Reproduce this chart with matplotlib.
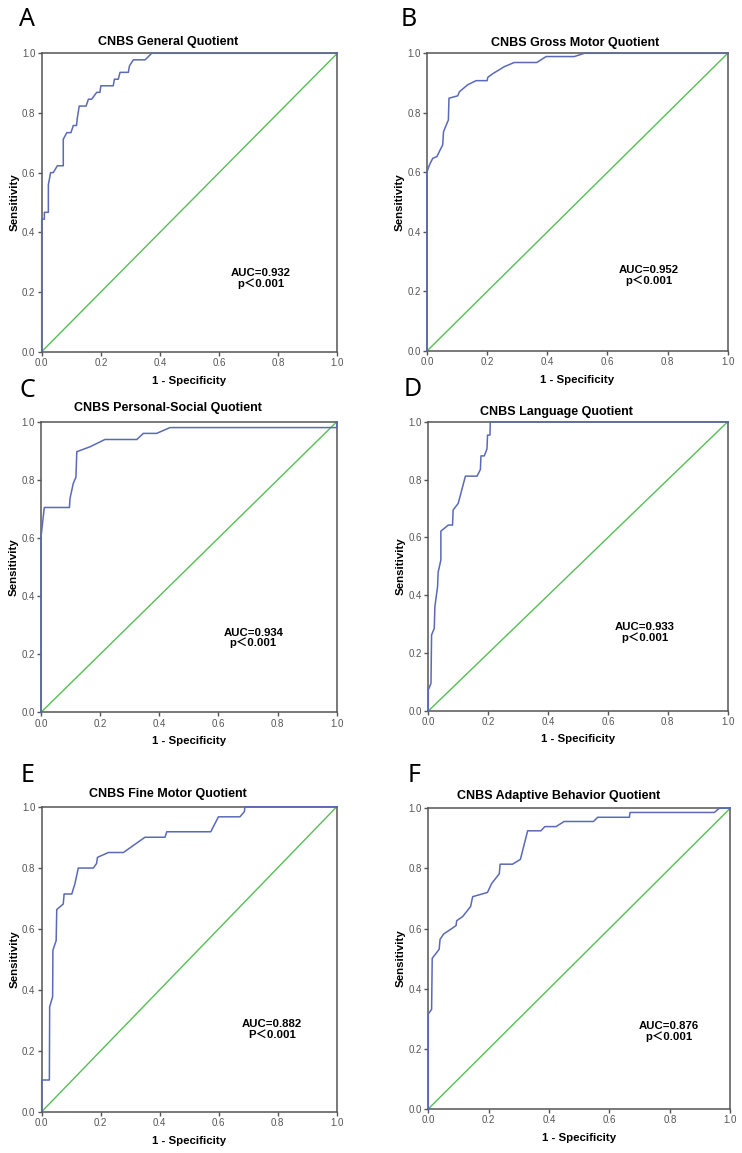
import numpy as np
import matplotlib
matplotlib.use("Agg")
import matplotlib.pyplot as plt

# ROC curves (1 - specificity, sensitivity)
fpr_a = [0, 0, 0.009, 0.009, 0.0225, 0.0225, 0.030, 0.039, 0.053, 0.073, 0.073, 0.085, 0.099,
         0.107, 0.118, 0.120, 0.127, 0.150, 0.158, 0.169, 0.186, 0.197, 0.200, 0.242, 0.246,
         0.259, 0.265, 0.293, 0.297, 0.310, 0.350, 0.372, 1.0]
tpr_a = [0, 0.444, 0.444, 0.467, 0.467, 0.559, 0.600, 0.600, 0.623, 0.623, 0.712, 0.734, 0.734,
         0.758, 0.758, 0.780, 0.823, 0.823, 0.846, 0.846, 0.869, 0.869, 0.891, 0.891, 0.913,
         0.913, 0.936, 0.936, 0.958, 0.978, 0.978, 1.0, 1.0]

fpr_b = [0, 0, 0.008, 0.019, 0.033, 0.041, 0.052, 0.055, 0.071, 0.073, 0.102, 0.108, 0.135,
         0.163, 0.200, 0.202, 0.218, 0.257, 0.290, 0.365, 0.396, 0.490, 0.523, 1.0]
tpr_b = [0, 0.602, 0.625, 0.647, 0.653, 0.670, 0.692, 0.737, 0.776, 0.849, 0.857, 0.871, 0.894,
         0.908, 0.908, 0.919, 0.931, 0.955, 0.969, 0.969, 0.989, 0.989, 1.0, 1.0]

fpr_c = [0, 0, 0.011, 0.096, 0.098, 0.109, 0.118, 0.121, 0.166, 0.216, 0.324, 0.346, 0.391,
         0.436, 1.0, 1.0]
tpr_c = [0, 0.604, 0.705, 0.705, 0.736, 0.788, 0.809, 0.897, 0.914, 0.939, 0.939, 0.960, 0.960,
         0.980, 0.980, 1.0]

fpr_d = [0, 0, 0.009, 0.011, 0.020, 0.022, 0.031, 0.033, 0.042, 0.042, 0.067, 0.081, 0.083,
         0.100, 0.124, 0.163, 0.174, 0.176, 0.187, 0.196, 0.198, 0.206, 0.207, 1.0]
tpr_d = [0, 0.073, 0.096, 0.263, 0.286, 0.361, 0.430, 0.480, 0.522, 0.622, 0.643, 0.643, 0.695,
         0.718, 0.812, 0.812, 0.835, 0.882, 0.882, 0.906, 0.954, 0.954, 1.0, 1.0]

fpr_e = [0, 0, 0.026, 0.027, 0.037, 0.038, 0.049, 0.051, 0.073, 0.076, 0.102, 0.113, 0.124,
         0.175, 0.186, 0.189, 0.226, 0.277, 0.350, 0.418, 0.424, 0.573, 0.599, 0.672, 0.687,
         0.689, 1.0]
tpr_e = [0, 0.104, 0.104, 0.344, 0.377, 0.530, 0.561, 0.663, 0.681, 0.714, 0.714, 0.749, 0.799,
         0.799, 0.814, 0.834, 0.850, 0.850, 0.900, 0.900, 0.918, 0.918, 0.967, 0.967, 0.984,
         1.0, 1.0]

fpr_f = [0, 0, 0.011, 0.013, 0.036, 0.039, 0.051, 0.075, 0.092, 0.094, 0.114, 0.140, 0.147,
         0.196, 0.210, 0.235, 0.238, 0.279, 0.305, 0.329, 0.373, 0.386, 0.423, 0.450, 0.547,
         0.561, 0.666, 0.668, 0.947, 0.964, 1.0]
tpr_f = [0, 0.316, 0.331, 0.501, 0.531, 0.564, 0.582, 0.598, 0.610, 0.626, 0.640, 0.673, 0.706,
         0.720, 0.750, 0.782, 0.814, 0.814, 0.830, 0.925, 0.925, 0.939, 0.939, 0.956, 0.956,
         0.970, 0.970, 0.986, 0.986, 1.0, 1.0]

panel_letters = ["A", "B", "C", "D", "E", "F"]
titles = ["CNBS General Quotient", "CNBS Gross Motor Quotient", "CNBS Personal-Social Quotient",
          "CNBS Language Quotient", "CNBS Fine Motor Quotient", "CNBS Adaptive Behavior Quotient"]
auc_text = ["AUC=0.932\np\uff1c0.001", "AUC=0.952\np\uff1c0.001", "AUC=0.934\np\uff1c0.001",
            "AUC=0.933\np\uff1c0.001", "AUC=0.882\nP\uff1c0.001", "AUC=0.876\np\uff1c0.001"]
ticks = [0.0, 0.2, 0.4, 0.6, 0.8, 1.0]

curves = [(fpr_a, tpr_a), (fpr_b, tpr_b), (fpr_c, tpr_c),
          (fpr_d, tpr_d), (fpr_e, tpr_e), (fpr_f, tpr_f)]

# layout (axes rectangles in figure fractions, text anchors in axes fractions)
rects = [[0.0562, 0.6950, 0.3984, 0.2588], [0.5755, 0.6956, 0.4053, 0.2582],
         [0.0553, 0.3822, 0.3985, 0.2520], [0.5772, 0.3833, 0.4035, 0.2509],
         [0.0562, 0.0358, 0.3976, 0.2645], [0.5772, 0.0382, 0.4070, 0.2608]]
title_xy = [(0.426, 1.038), (0.492, 1.035), (0.429, 1.048),
            (0.428, 1.034), (0.427, 1.042), (0.430, 1.041)]
auc_xy = [(0.742, 0.245), (0.739, 0.254), (0.718, 0.256),
          (0.724, 0.272), (0.780, 0.270), (0.796, 0.257)]
letter_xy = [(27, 20), (409, 20), (27, 391), (413, 390), (28, 776), (414, 776)]

W, H = 742, 1153
fig = plt.figure(figsize=(W / 100, H / 100), dpi=100)

BLUE = "#5a6ab8"
GREEN = "#55bf55"
SPINE = "#555555"
bold_font = ["Liberation Sans", "Noto Sans CJK SC", "DejaVu Sans"]

for i in range(6):
    ax = fig.add_axes(rects[i])
    fpr, tpr = curves[i]
    ax.plot(ticks, ticks, color=GREEN, lw=1.0, zorder=2)
    ax.plot(fpr, tpr, color=BLUE, lw=1.1, zorder=3, clip_on=False)
    ax.set_xlim(0, 1)
    ax.set_ylim(0, 1)
    ax.set_xticks(ticks)
    ax.set_yticks(ticks)
    ax.set_xticklabels(["%.1f" % t for t in ticks])
    ax.set_yticklabels(["%.1f" % t for t in ticks])
    ax.tick_params(direction="out", length=3, width=1.0, color=SPINE,
                   labelsize=7, labelcolor="#555555", pad=1.5,
                   top=False, right=False)
    for lab in ax.get_xticklabels() + ax.get_yticklabels():
        lab.set_family("Liberation Sans")
    for s in ax.spines.values():
        s.set_color(SPINE)
        s.set_linewidth(1.1)
    ax.set_xlabel("1 - Specificity", fontsize=8.2, fontweight="bold", family=bold_font)
    ax.set_ylabel("Sensitivity", fontsize=8.2, fontweight="bold", family=bold_font)
    ax.xaxis.set_label_coords(0.5, -0.08)
    ax.yaxis.set_label_coords(-0.075, 0.5)
    ax.text(title_xy[i][0], title_xy[i][1], titles[i], transform=ax.transAxes,
            ha="center", va="center", fontsize=9, fontweight="bold", family=bold_font)
    ax.text(auc_xy[i][0], auc_xy[i][1], auc_text[i], transform=ax.transAxes,
            ha="center", va="center", fontsize=8.2, fontweight="bold", family=bold_font,
            linespacing=1.0)
    fig.text(letter_xy[i][0] / W, 1 - letter_xy[i][1] / H, panel_letters[i],
             ha="center", va="center", fontsize=18, family=["Noto Sans", "DejaVu Sans"])

fig.savefig("out.png", dpi=100)
